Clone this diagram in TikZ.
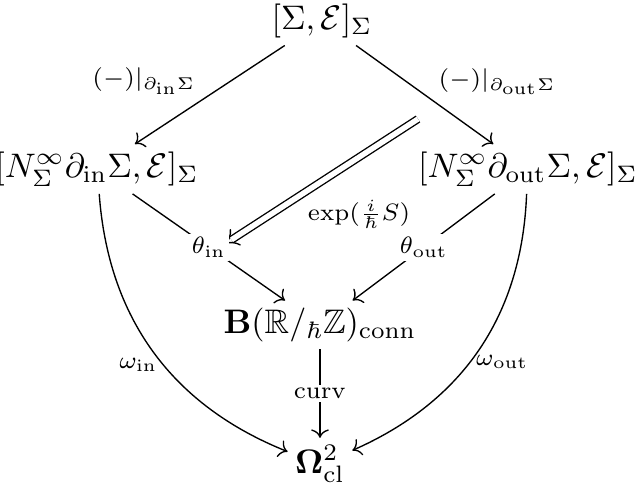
\documentclass[tikz,border=0pt]{standalone}
\usepackage{amsmath,amssymb}
\usepackage{tikz}
\usetikzlibrary{arrows.meta}

\begin{document}
\begin{tikzpicture}[x=0.294pt, y=-0.294pt]

%% -- helpers --
\tikzset{
  obj/.style={inner sep=2pt},
  arr/.style={-{Computer Modern Rightarrow}, thin},
  dbl/.style={double, double distance=1.6pt, -{Implies}, thin},
  lab/.style={font=\scriptsize, inner sep=1.5pt},
  desc/.style={lab, fill=white, inner sep=1pt},
}
\useasboundingbox (0,0) rectangle (642,485);

%% -- objects --
\node[obj] (top)  at (322,21)  {$[\Sigma,\mathcal{E}]_\Sigma$};
\node[obj] (in)   at (97,169)  {$[N^\infty_\Sigma\partial_{\mathrm{in}}\Sigma,\mathcal{E}]_\Sigma$};
\node[obj] (out)  at (528,169) {$[N^\infty_\Sigma\partial_{\mathrm{out}}\Sigma,\mathcal{E}]_\Sigma$};
\node[obj] (conn) at (320,325) {$\mathbf{B}(\mathbb{R}/_{\hbar}\mathbb{Z})_{\mathrm{conn}}$};
\node[obj] (om)   at (320,464) {$\mathbf{\Omega}^2_{\mathrm{cl}}$};

%% -- restrictions --
\draw[arr] (top) -- node[lab, pos=0.56, above left] {$(-)|_{\partial_{\mathrm{in}}\Sigma}$} (in);
\draw[arr] (top) -- node[lab, pos=0.56, above right] {$(-)|_{\partial_{\mathrm{out}}\Sigma}$} (out);

%% -- 2-cell --
\coordinate (dfrom) at (418,119);
\coordinate (dto)   at (225,244);
\draw[dbl] (dfrom) -- node[lab, pos=0.6, below right] {$\exp(\tfrac{i}{\hbar}S)$} (dto);

%% -- into the connections --
\draw[arr] (in)  -- node[desc] {$\theta_{\mathrm{in}}$} (conn);
\draw[arr] (out) -- node[desc] {$\theta_{\mathrm{out}}$} (conn);
\draw[arr] (conn) -- node[desc] {$\mathrm{curv}$} (om);

%% -- curvatures --
\draw[arr] (in)  to[bend right=32] node[lab, pos=0.55, left]  {$\omega_{\mathrm{in}}$} (om);
\draw[arr] (out) to[bend left=32]  node[lab, pos=0.55, right] {$\omega_{\mathrm{out}}$} (om);

\end{tikzpicture}
\end{document}
